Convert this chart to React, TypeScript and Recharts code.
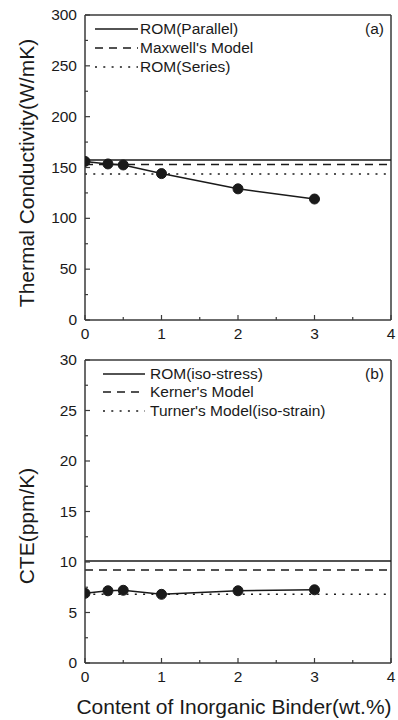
import React from 'react';
import { LineChart, Line, XAxis, YAxis, ReferenceLine } from 'recharts';

const binderContent = [0, 0.3, 0.5, 1, 2, 3];
const thermalConductivity = [156, 153.5, 152.5, 144, 129, 119];
const cteValues = [6.9, 7.15, 7.2, 6.8, 7.15, 7.25];

const tcModelLabels = ['ROM(Parallel)', "Maxwell's Model", 'ROM(Series)'];
const tcModelValues = [157.5, 153, 143.5];
const cteModelLabels = ['ROM(iso-stress)', "Kerner's Model", "Turner's Model(iso-strain)"];
const cteModelValues = [10.1, 9.2, 6.8];

const xTicks = [0, 0.5, 1, 1.5, 2, 2.5, 3, 3.5, 4];
const tcTicks = [0, 25, 50, 75, 100, 125, 150, 175, 200, 225, 250, 275, 300];
const cteTicks = [0, 2.5, 5, 7.5, 10, 12.5, 15, 17.5, 20, 22.5, 25, 27.5, 30];

const xTitle = 'Content of Inorganic Binder(wt.%)';
const tcTitle = 'Thermal Conductivity(W/mK)';
const cteTitle = 'CTE(ppm/K)';

const FONT = '"Liberation Sans", Arial, sans-serif';
const INK = '#1a1a1a';
const AXIS = '#3a3a3a';
const DASHES = [undefined, '8 6', '2 6.3'];

const tcData = binderContent.map((x, i) => ({ x, v: thermalConductivity[i] }));
const cteData = binderContent.map((x, i) => ({ x, v: cteValues[i] }));

const Y_MARGIN = 8;
const X_MARGIN = 6;
const PLOT_LEFT = 85;

const YTick = (props: any) => {
  const { y, payload, major } = props;
  const isMajor = payload.value % major === 0;
  return (
    <g>
      <line x1={PLOT_LEFT} x2={PLOT_LEFT + (isMajor ? 5 : 3)} y1={y} y2={y} stroke={AXIS} strokeWidth={1.2} />
      {isMajor && (
        <text x={PLOT_LEFT - Y_MARGIN} y={y} dy={5} textAnchor="end" fontSize={15.5} fontFamily={FONT} fill={INK}>
          {payload.value}
        </text>
      )}
    </g>
  );
};

const XTick = (props: any) => {
  const { x, y, payload } = props;
  const axisY = y - X_MARGIN;
  const isMajor = Number.isInteger(payload.value);
  return (
    <g>
      <line x1={x} x2={x} y1={axisY} y2={axisY - (isMajor ? 5 : 3)} stroke={AXIS} strokeWidth={1.2} />
      {isMajor && (
        <text x={x} y={axisY} dy={18.5} textAnchor="middle" fontSize={15.5} fontFamily={FONT} fill={INK}>
          {payload.value}
        </text>
      )}
    </g>
  );
};

const Panel = ({ data, ticks, max, major, models, xHeight }: any) => (
  <LineChart width={398} height={345} data={data} margin={{ top: 15, right: 7, left: 0, bottom: 0 }}>
    <XAxis
      dataKey="x"
      type="number"
      domain={[0, 4]}
      ticks={xTicks}
      allowDataOverflow
      interval={0}
      height={xHeight}
      tickSize={0}
      tickMargin={X_MARGIN}
      tickLine={false}
      stroke={AXIS}
      strokeWidth={1.5}
      tick={<XTick />}
    />
    <YAxis
      type="number"
      domain={[0, max]}
      ticks={ticks}
      allowDataOverflow
      interval={0}
      width={PLOT_LEFT}
      tickSize={0}
      tickMargin={Y_MARGIN}
      tickLine={false}
      stroke={AXIS}
      strokeWidth={1.5}
      tick={<YTick major={major} />}
    />
    <ReferenceLine y={max} stroke={AXIS} strokeWidth={1.5} />
    <ReferenceLine x={4} stroke={AXIS} strokeWidth={1.5} />
    {models.map((v: number, i: number) => (
      <ReferenceLine key={i} y={v} stroke={INK} strokeWidth={1.5} strokeDasharray={DASHES[i]} />
    ))}
    <Line
      dataKey="v"
      stroke={INK}
      strokeWidth={1.5}
      isAnimationActive={false}
      dot={{ r: 5, fill: INK, stroke: INK, strokeWidth: 1, clipDot: true }}
    />
  </LineChart>
);

const LegendBlock = ({ labels, rows, x0, x1, tx, tag }: any) => (
  <g fontFamily={FONT} fill={INK}>
    {labels.map((l: string, i: number) => (
      <g key={i}>
        <line x1={x0} x2={x1} y1={rows[i]} y2={rows[i]} stroke={INK} strokeWidth={1.5} strokeDasharray={DASHES[i]} />
        <text x={tx} y={rows[i]} dy={5} fontSize={15.5}>{l}</text>
      </g>
    ))}
    <text x={384} y={rows[0]} dy={5} fontSize={15.5} textAnchor="end">{tag}</text>
  </g>
);

export default function App() {
  return (
    <div style={{ position: 'absolute', left: 0, top: 0, width: 398, height: 720, background: '#fff' }}>
      <div style={{ position: 'absolute', left: 0, top: 0 }}>
        <Panel data={tcData} ticks={tcTicks} max={300} major={50} models={tcModelValues} xHeight={25} />
      </div>
      <div style={{ position: 'absolute', left: 0, top: 345 }}>
        <Panel data={cteData} ticks={cteTicks} max={30} major={5} models={cteModelValues} xHeight={27} />
      </div>
      <svg width={398} height={720} style={{ position: 'absolute', left: 0, top: 0, pointerEvents: 'none' }}>
        <LegendBlock labels={tcModelLabels} rows={[29, 48, 67]} x0={95} x1={138} tx={140} tag="(a)" />
        <LegendBlock labels={cteModelLabels} rows={[374, 392, 411]} x0={103} x1={145} tx={150} tag="(b)" />
        <text x={0} y={0} transform="translate(34,173) rotate(-90)" textAnchor="middle" fontSize={21} fontFamily={FONT} fill={INK}>
          {tcTitle}
        </text>
        <text x={0} y={0} transform="translate(34,526) rotate(-90)" textAnchor="middle" fontSize={21} fontFamily={FONT} fill={INK}>
          {cteTitle}
        </text>
        <text x={234} y={714} textAnchor="middle" fontSize={21} fontFamily={FONT} fill={INK}>
          {xTitle}
        </text>
      </svg>
    </div>
  );
}
